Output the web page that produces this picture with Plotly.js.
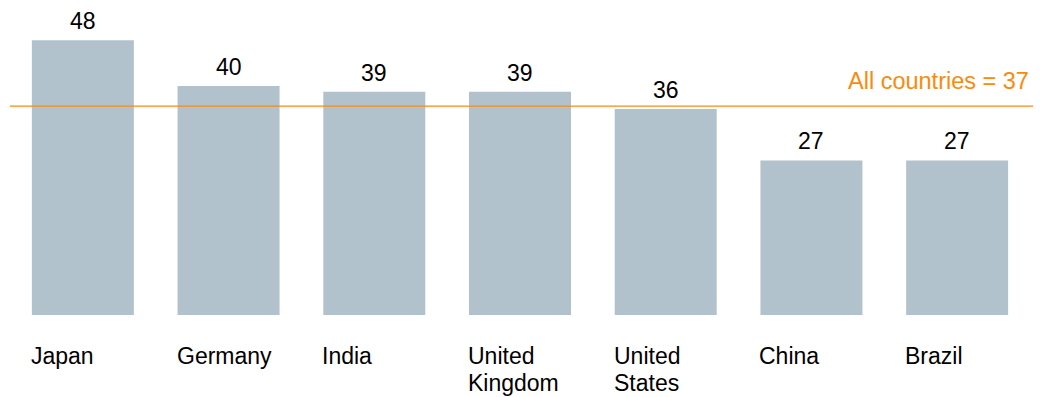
<!DOCTYPE html>
<html><head><meta charset="utf-8">
<script src="https://cdn.plot.ly/plotly-3.0.1.min.js"></script>
<style>html,body{margin:0;padding:0;background:#fff;}#chart{width:1048px;height:397px;}</style>
</head><body><div id="chart"></div>
<script>
const categories = ["Japan","Germany","India","United<br>Kingdom","United<br>States","China","Brazil"];
const values = [48,40,39,39,36,27,27];
const averageValue = 36.5;
const averageLabel = "All countries = 37";

const xs = categories.map((c,i)=>i);
const font = "Liberation Sans, Arial, sans-serif";
const FS = 23;
const orange = '#fb8a0c';
const annotations = [];
categories.forEach((c,i)=>{
  c.split('<br>').forEach((line,k)=>{
    annotations.push({
      x: i-0.35, y: 0, xref:'x', yref:'y', xanchor:'left', yanchor:'top', align:'left',
      xshift:-3, yshift:-26 - k*27.4, text:line, showarrow:false, font:{family:font,size:FS,color:'#000'}
    });
  });
  annotations.push({
    x:i, y:values[i], xref:'x', yref:'y', xanchor:'center', yanchor:'bottom',
    yshift:4, text:String(values[i]), showarrow:false, font:{family:font,size:FS,color:'#000'}
  });
});
annotations.push({
  x:1, y:averageValue, xref:'paper', yref:'y', xanchor:'right', yanchor:'bottom', yshift:10, xshift:1,
  text:averageLabel, showarrow:false, font:{family:font,size:23.5,color:orange}
});
Plotly.newPlot('chart',[{
  type:'bar', x:xs, y:values, width:0.7,
  marker:{color:'#b2c2cc'}, hoverinfo:'none'
}],{
  width:1048, height:397,
  margin:{l:10,r:18,t:17,b:82},
  paper_bgcolor:'#fff', plot_bgcolor:'#fff',
  showlegend:false,
  xaxis:{range:[-0.5,6.5],showgrid:false,zeroline:false,showticklabels:false,ticks:''},
  yaxis:{range:[0,52.07],showgrid:false,zeroline:false,showticklabels:false,ticks:''},
  shapes:[{type:'line',xref:'paper',yref:'y',x0:0,x1:1.003,y0:averageValue,y1:averageValue,
    line:{color:orange,width:1.2}}],
  annotations:annotations
},{staticPlot:true});
</script></body></html>
